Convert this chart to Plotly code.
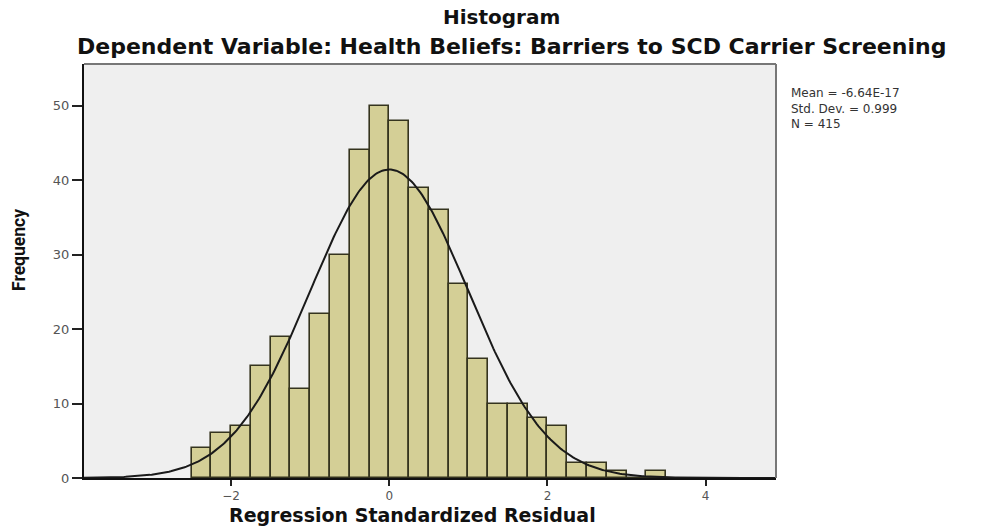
import numpy as np
import plotly.graph_objects as go

# Histogram bins (left edges) and counts
bin_left = [-2.5, -2.25, -2.0, -1.75, -1.5, -1.25, -1.0, -0.75, -0.5, -0.25,
            0.0, 0.25, 0.5, 0.75, 1.0, 1.25, 1.5, 1.75, 2.0, 2.25,
            2.5, 2.75, 3.0, 3.25]
counts = [4, 6, 7, 15, 19, 12, 22, 30, 44, 50,
          48, 39, 36, 26, 16, 10, 10, 8, 7, 2,
          2, 1, 0, 1]
bin_width = 0.25

# Reported statistics (used for the fitted normal curve)
stat_mean = -6.64e-17
stat_sd = 0.999
stat_n = 415
stat_labels = ["Mean = -6.64E-17", "Std. Dev. = 0.999", "N = 415"]

x_ticks = [-2, 0, 2, 4]
y_ticks = [0, 10, 20, 30, 40, 50]

title_main = "Histogram"
title_sub = "Dependent Variable: Health Beliefs: Barriers to SCD Carrier Screening"
x_title = "Regression Standardized Residual"
y_title = "Frequency"

x_range = [-3.86, 4.89]
y_range = [0, 55.6]

centers = [b + bin_width / 2 for b in bin_left]

xc = np.linspace(x_range[0], x_range[1], 400)
yc = stat_n * bin_width * np.exp(-0.5 * ((xc - stat_mean) / stat_sd) ** 2) / (stat_sd * np.sqrt(2 * np.pi))

fig = go.Figure()
fig.add_trace(go.Bar(
    x=centers, y=counts, width=[bin_width] * len(counts),
    marker=dict(color="#D4CF96", line=dict(color="#35341e", width=1.6)),
    hoverinfo="x+y", showlegend=False,
))
fig.add_trace(go.Scatter(
    x=xc, y=yc, mode="lines", line=dict(color="#1a1a1a", width=2),
    showlegend=False, hoverinfo="skip",
))

W, H = 985, 527
L, R, T, B = 84, 985 - 776, 64, 527 - 478

fig.update_layout(
    width=W, height=H,
    margin=dict(l=L, r=R, t=T, b=B, pad=0),
    paper_bgcolor="white", plot_bgcolor="#EFEFEF",
    bargap=0,
    font=dict(family="DejaVu Sans", color="#222"),
)
fig.update_xaxes(
    range=x_range, tickvals=x_ticks, ticktext=[str(v).replace("-", "\u2212") for v in x_ticks],
    ticks="outside", ticklen=6, tickwidth=1.5, tickcolor="#222",
    tickfont=dict(family="DejaVu Sans", size=12, color="#555"),
    showline=True, linecolor="#111", linewidth=2, mirror=False,
    showgrid=False, zeroline=False,
)
fig.update_yaxes(
    range=y_range, tickvals=y_ticks,
    ticks="outside", ticklen=10, tickwidth=1.5, tickcolor="#222",
    tickfont=dict(family="DejaVu Sans", size=13, color="#555"),
    showline=True, linecolor="#111", linewidth=2, mirror=False,
    showgrid=False, zeroline=False,
)

# frame (top and right edges in gray)
fig.add_shape(type="line", xref="paper", yref="paper", x0=0, x1=1, y0=1, y1=1,
              line=dict(color="#777", width=2))
fig.add_shape(type="line", xref="paper", yref="paper", x0=1, x1=1, y0=0, y1=1,
              line=dict(color="#777", width=2))

pw = W - L - R
ph = H - T - B

def px_x(px):
    return (px - L) / pw

def px_y(py):
    return (H - B - py) / ph

fig.add_annotation(text=f"<b>{title_main}</b>", xref="paper", yref="paper",
                   x=px_x(501), y=px_y(17.5), showarrow=False, xanchor="center", yanchor="middle",
                   font=dict(family="DejaVu Sans", size=20, color="#111"))
fig.add_annotation(text=f"<b>{title_sub}</b>", xref="paper", yref="paper",
                   x=px_x(511), y=px_y(46), showarrow=False, xanchor="center", yanchor="middle",
                   font=dict(family="DejaVu Sans", size=22, color="#111"))
fig.add_annotation(text=f"<b>{x_title}</b>", xref="paper", yref="paper",
                   x=px_x(412), y=px_y(515), showarrow=False, xanchor="center", yanchor="middle",
                   font=dict(family="DejaVu Sans", size=19, color="#111"))
fig.add_annotation(text=f"<b>{y_title}</b>", xref="paper", yref="paper",
                   x=px_x(19), y=px_y(250), showarrow=False, xanchor="center", yanchor="middle",
                   textangle=-90,
                   font=dict(family="Roboto", size=17.5, color="#111"))
fig.add_annotation(text="<br>".join(stat_labels), xref="paper", yref="paper",
                   x=px_x(789), y=px_y(84), showarrow=False,
                   xanchor="left", yanchor="top", align="left",
                   font=dict(family="DejaVu Sans", size=12, color="#333"))

fig.write_html("out.html")
